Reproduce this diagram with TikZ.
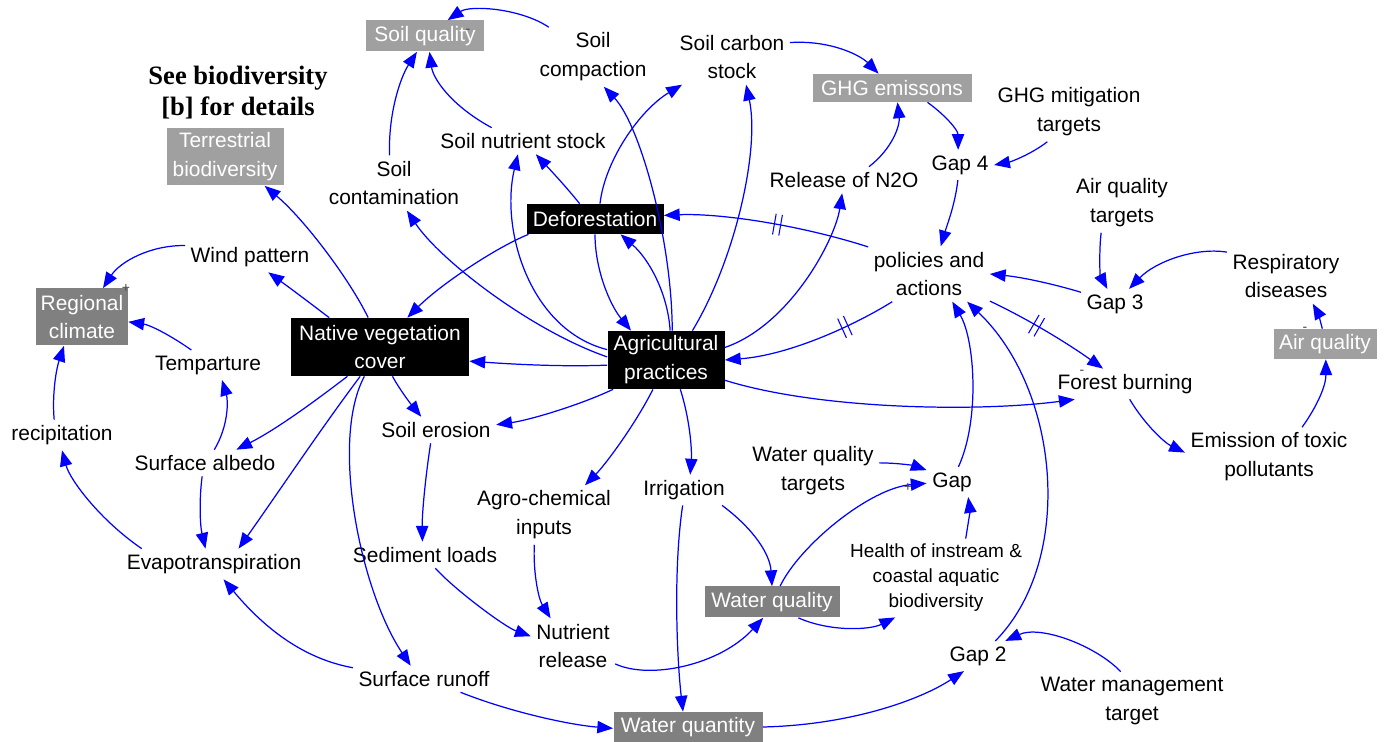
\documentclass[tikz,border=0pt]{standalone}
\usepackage{fontspec}
\setmainfont{Liberation Sans}
\newfontfamily\notefont{Liberation Serif}
\usetikzlibrary{arrows.meta,decorations.markings,calc}
\definecolor{lightbox}{RGB}{160,160,160}
\definecolor{darkbox}{RGB}{128,128,128}
\definecolor{linkblue}{RGB}{0,0,255}
\definecolor{signgray}{RGB}{70,70,70}

\begin{document}
\begin{tikzpicture}[x=0.02cm,y=-0.02cm,
  lbl/.style={align=center, inner sep=3pt, font=\fontsize{11.9}{16.4}\selectfont},
  smalllbl/.style={align=center, inner sep=3pt, font=\fontsize{10.8}{14.2}\selectfont},
  notelbl/.style={align=center, inner sep=2pt, font=\notefont\bfseries\fontsize{15.1}{17.6}\selectfont},
  boxed/.style n args={3}{lbl, inner sep=0pt, text=white, fill=#1,
    minimum width=#2*0.02cm, minimum height=#3*0.02cm},
  signlbl/.style={inner sep=0pt, text=signgray, font=\fontsize{8}{8}\selectfont},
  link/.style={draw=linkblue, line width=0.7pt, -{Triangle[length=9pt,width=7pt]}},
  delaymark/.style={postaction={decorate, decoration={markings,
    mark=at position #1 with {\draw[-, draw=linkblue, line width=0.6pt]
      (-1.8pt,-6pt) -- (-1.8pt,6pt) (1.8pt,-6pt) -- (1.8pt,6pt);}}}}
]
\useasboundingbox (0,0) rectangle (1386,742);

% ---- variables ----
\node[boxed={lightbox}{118}{31}] (soilq) at (425,36) {Soil quality};
\node[lbl] (socomp) at (593,57) {Soil\\compaction};
\node[lbl] (socarb) at (732,57) {Soil carbon\\stock};
\node[boxed={lightbox}{159}{28}] (ghg) at (892,88) {GHG emissons};
\node[lbl] (ghgt) at (1069,112) {GHG mitigation\\targets};
\node[notelbl] (note) at (238,93) {See biodiversity\\{[b]} for details};
\node[boxed={lightbox}{117}{57}] (terr) at (225,157) {Terrestrial\\biodiversity};
\node[lbl] (sonut) at (523,141) {Soil nutrient stock};
\node[lbl] (socont) at (394,183) {Soil\\contamination};
\node[lbl] (n2o) at (844,180) {Release of N2O};
\node[lbl] (gap4) at (960,165) {Gap 4};
\node[boxed={black}{137}{30}] (defor) at (595,219) {Deforestation};
\node[lbl] (aqt) at (1122,203) {Air quality\\targets};
\node[lbl] (pol) at (929,274) {policies and\\actions};
\node[lbl] (wind) at (250,257) {Wind pattern};
\node[lbl] (resp) at (1286,276) {Respiratory\\diseases};
\node[lbl] (gap3) at (1115,304) {Gap 3};
\node[boxed={darkbox}{92}{57}] (regc) at (82,317) {Regional\\climate};
\node[boxed={black}{178}{58}] (nvc) at (380,347) {Native vegetation\\cover};
\node[boxed={black}{117}{58}] (agri) at (666,360) {Agricultural\\practices};
\node[boxed={lightbox}{103}{30}] (airq) at (1325,344) {Air quality};
\node[lbl] (temp) at (208,365) {Temparture};
\node[lbl] (fburn) at (1125,384) {Forest burning};
\node[lbl] (soer) at (436,430) {Soil erosion};
\node[lbl] (prec) at (62,435) {recipitation};
\node[lbl] (salb) at (205,463) {Surface albedo};
\node[lbl] (emis) at (1269,457) {Emission of toxic\\pollutants};
\node[lbl] (wqt) at (813,471) {Water quality\\targets};
\node[lbl] (gap) at (952,482) {Gap};
\node[lbl] (irr) at (684,490) {Irrigation};
\node[lbl] (agro) at (544,515) {Agro-chemical\\inputs};
\node[lbl] (evap) at (214,564) {Evapotranspiration};
\node[lbl] (sedl) at (425,555) {Sediment loads};
\node[smalllbl] (health) at (936,578) {Health of instream \&\\coastal aquatic\\biodiversity};
\node[boxed={darkbox}{135}{31}] (wql) at (772,602) {Water quality};
\node[lbl] (nrel) at (573,646) {Nutrient\\release};
\node[lbl] (gap2) at (978,656) {Gap 2};
\node[lbl] (surf) at (424,679) {Surface runoff};
\node[lbl] (wmt) at (1132,701) {Water management\\target};
\node[boxed={darkbox}{149}{30}] (wqn) at (688,727) {Water quantity};

% ---- polarity signs ----
\node[signlbl] (s1) at (468,31) {-};
\node[signlbl] (s2) at (126,288) {+};
\node[signlbl] (s3) at (1082,372) {-};
\node[signlbl] (s4) at (1305,329) {-};
\node[signlbl] (s5) at (908,487) {+};

% ---- causal links ----
\draw[link] (socomp.146) .. controls (520,8) and (470,5) .. (soilq.35);
\draw[link] (socont.99) .. controls (388,115) and (400,78) .. (soilq.243);
\draw[link] (sonut.157) .. controls (450,105) and (433,78) .. (soilq.286);
\draw[link] (agri.78) .. controls (672,240) and (640,125) .. (socomp.290);
\draw[link] (defor.72) .. controls (605,160) and (640,110) .. (socarb.209);
\draw[link] (agri.48) .. controls (735,260) and (760,150) .. (socarb.297);
\draw[link] (socarb.14) .. controls (830,40) and (860,55) .. (ghg.133);
\draw[link] (n2o.28) .. controls (893,148) and (900,125) .. (ghg.291);
\draw[link] (ghg.338) .. controls (945,115) and (958,130) .. (gap4.97);
\draw[link] (ghgt.234) .. controls (1030,155) and (1010,162) .. (gap4.0);
\draw[link] (gap4.262) .. controls (955,205) and (947,225) .. (pol.67);
\draw[link] (agri.170) .. controls (530,330) and (500,230) .. (sonut.249);
\draw[link] (defor.135) .. controls (567,188) and (555,175) .. (sonut.314);
\draw[link] (agri.177) .. controls (530,330) and (440,260) .. (socont.295);
\draw[link] (defor.193) .. controls (495,248) and (440,285) .. (nvc.47);
\draw[link] (defor.270) .. controls (595,270) and (610,305) .. (agri.140);
\draw[link] (agri.82) .. controls (668,295) and (650,260) .. (defor.329);
\draw[link] (agri.12) .. controls (790,325) and (835,240) .. (n2o.262);
\draw[link,delaymark=0.45] (pol.156) .. controls (800,225) and (720,213) .. (defor.3);
\draw[link,delaymark=0.3] (pol.217) .. controls (855,325) and (790,355) .. (agri.0);
\draw[link,delaymark=0.4] (pol.336) .. controls (1030,320) and (1070,345) .. (fburn.145);
\draw[link] (gap3.161) .. controls (1050,283) and (1020,277) .. (pol.0);
\draw[link] (aqt.235) .. controls (1099,250) and (1100,275) .. (gap3.117);
\draw[link] (resp.158) .. controls (1195,247) and (1155,262) .. (gap3.47);
\draw[link] (airq.100) .. controls (1320,320) and (1318,313) .. (resp.314);
\draw[link] (emis.42) .. controls (1318,405) and (1326,385) .. (airq.273);
\draw[link] (fburn.287) .. controls (1145,425) and (1165,443) .. (emis.177);
\draw[link] (agri.341) .. controls (820,410) and (980,412) .. (fburn.197);
\draw[link] (gap.67) .. controls (980,420) and (975,340) .. (pol.310);
\draw[link] (gap2.41) .. controls (1075,560) and (1060,390) .. (pol.324);
\draw[link] (wmt.111) .. controls (1095,645) and (1040,625) .. (gap2.29);
\draw[link] (wqn.0) .. controls (850,725) and (920,700) .. (gap2.227);
\draw[link] (wqt.7) .. controls (900,463) and (915,466) .. (gap.155);
\draw[link] (wql.63) .. controls (800,545) and (870,488) .. (gap.183);
\draw[link] (health.53) .. controls (968,525) and (970,510) .. (gap.317);
\draw[link] (wql.329) .. controls (830,632) and (870,630) .. (health.224);
\draw[link] (irr.338) .. controls (755,530) and (770,555) .. (wql.90);
\draw[link] (irr.265) .. controls (673,570) and (677,660) .. (wqn.108);
\draw[link] (agri.296) .. controls (690,420) and (692,450) .. (irr.68);
\draw[link] (agri.246) .. controls (635,425) and (605,465) .. (agro.36);
\draw[link] (agri.209) .. controls (580,405) and (530,420) .. (soer.5);
\draw[link] (agri.185) .. controls (560,367) and (510,364) .. (nvc.351);
\draw[link] (agro.252) .. controls (533,570) and (538,598) .. (nrel.129);
\draw[link] (sedl.308) .. controls (455,590) and (505,627) .. (nrel.167);
\draw[link] (nrel.337) .. controls (650,680) and (720,665) .. (wql.241);
\draw[link] (surf.340) .. controls (510,712) and (570,725) .. (wqn.181);
\draw[link] (nvc.242) .. controls (330,440) and (360,590) .. (surf.135);
\draw[link] (surf.171) .. controls (310,660) and (270,635) .. (evap.302);
\draw[link] (nvc.293) .. controls (400,390) and (410,403) .. (soer.138);
\draw[link] (soer.248) .. controls (425,480) and (422,515) .. (sedl.101);
\draw[link] (nvc.222) .. controls (310,405) and (275,430) .. (salb.23);
\draw[link] (nvc.236) .. controls (320,430) and (280,490) .. (evap.32);
\draw[link] (salb.258) .. controls (199,500) and (200,525) .. (evap.119);
\draw[link] (salb.55) .. controls (229,425) and (228,400) .. (temp.313);
\draw[link] (evap.168) .. controls (100,520) and (70,480) .. (prec.270);
\draw[link] (prec.117) .. controls (52,395) and (56,370) .. (regc.238);
\draw[link] (temp.138) .. controls (170,335) and (150,325) .. (regc.354);
\draw[link] (wind.170) .. controls (150,245) and (120,262) .. (regc.54);
\draw[link] (nvc.150) .. controls (310,303) and (290,288) .. (wind.320);
\draw[link] (nvc.112) .. controls (350,280) and (305,220) .. (terr.324);
\end{tikzpicture}
\end{document}
